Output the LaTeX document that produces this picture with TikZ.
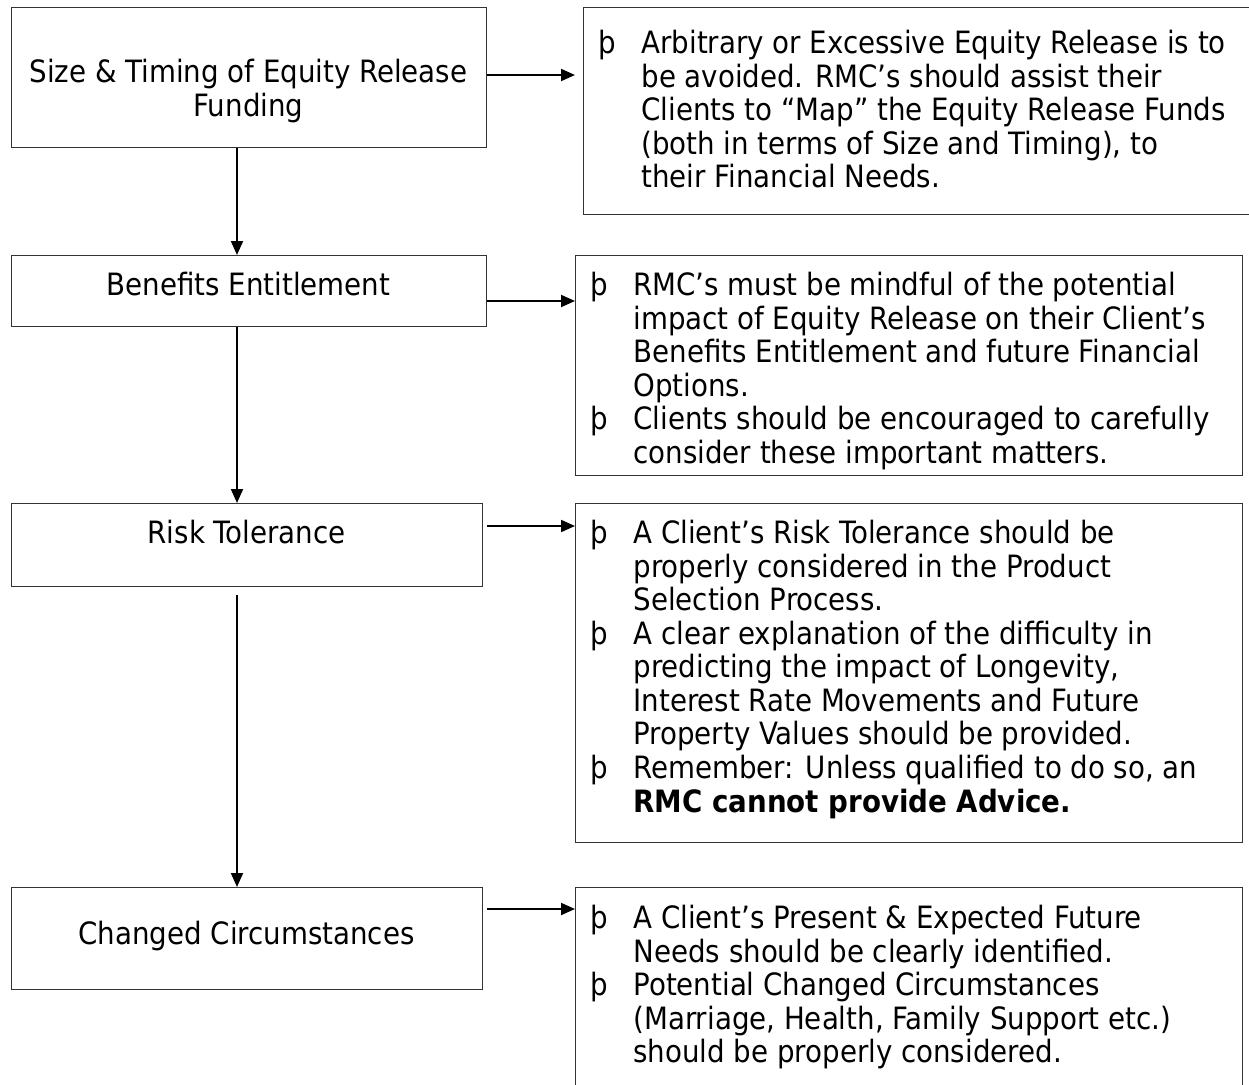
\documentclass[tikz,border=0pt]{standalone}
\usepackage{fontspec}
\setmainfont{DejaVu Sans Condensed}
\usetikzlibrary{arrows.meta}

\newcommand{\notelist}[1]{\begin{tabular}[t]{@{\hspace{3mm}}p{8.6mm}@{}l@{}}#1\end{tabular}}

\begin{document}
\begin{tikzpicture}[
    font=\fontsize{17.5}{19.1}\selectfont,
    stage/.style={draw=black!80, line width=0.6pt, anchor=north west, inner sep=0pt, minimum width=9.5cm},
    note/.style={draw=black!80, line width=0.6pt, anchor=north west, inner sep=0pt},
    conn/.style={line width=1.1pt, -{Triangle[length=2.8mm,width=2.4mm]}}]
  \useasboundingbox (0,0) rectangle (24.98,-21.68);
  \clip (0,0) rectangle (24.98,-21.68);
  \coordinate (spine) at (4.74,0);

  % stages on the left
  \node[stage, text height=1.5cm, text depth=1.3cm] (b1) at (0.21,-0.14)
    {\begin{tabular}[t]{@{}c@{}}Size \& Timing of Equity Release\\Funding\end{tabular}};
  \node[stage, text height=0.8cm, text depth=0.62cm] (b2) at (0.21,-5.1) {Benefits Entitlement};
  \node[stage, minimum width=9.42cm, text height=0.8cm, text depth=0.86cm] (b3) at (0.21,-10.06) {Risk Tolerance};
  \node[stage, minimum width=9.42cm, text height=1.14cm, text depth=0.9cm] (b4) at (0.21,-17.74) {Changed Circumstances};

  % notes on the right
  \node[note, text height=0.92cm, text depth=3.22cm] (n1) at (11.66,-0.14)
    {\makebox[13.4cm][l]{\notelist{%
      þ & Arbitrary or Excessive Equity Release is to\\
        & be avoided. RMC’s should assist their\\
        & Clients to “Map” the Equity Release Funds\\
        & (both in terms of Size and Timing), to\\
        & their Financial Needs.}}};
  \node[note, text height=0.8cm, text depth=3.6cm] (n2) at (11.5,-5.1)
    {\makebox[13.34cm][l]{\notelist{%
      þ & RMC’s must be mindful of the potential\\
        & impact of Equity Release on their Client’s\\
        & Benefits Entitlement and future Financial\\
        & Options.\\
      þ & Clients should be encouraged to carefully\\
        & consider these important matters.}}};
  \node[note, text height=0.8cm, text depth=5.98cm] (n3) at (11.5,-10.06)
    {\makebox[13.34cm][l]{\notelist{%
      þ & A Client’s Risk Tolerance should be\\
        & properly considered in the Product\\
        & Selection Process.\\
      þ & A clear explanation of the difficulty in\\
        & predicting the impact of Longevity,\\
        & Interest Rate Movements and Future\\
        & Property Values should be provided.\\
      þ & Remember: Unless qualified to do so, an\\
        & \textbf{RMC cannot provide Advice.}}}};
  \node[note, text height=0.82cm, text depth=3.4cm] (n4) at (11.5,-17.74)
    {\makebox[13.34cm][l]{\notelist{%
      þ & A Client’s Present \& Expected Future\\
        & Needs should be clearly identified.\\
      þ & Potential Changed Circumstances\\
        & (Marriage, Health, Family Support etc.)\\
        & should be properly considered.}}};

  % down the left side
  \draw[conn] (b1.south -| spine) -- (b2.north -| spine);
  \draw[conn] (b2.south -| spine) -- (b3.north -| spine);
  \draw[conn, shorten <=1.6mm] (b3.south -| spine) -- (b4.north -| spine);

  % across to the notes
  \draw[conn, shorten >=1.6mm] ([yshift=-1.36cm]b1.north east) -- ([yshift=-1.36cm]b1.north east -| n1.west);
  \draw[conn] ([yshift=-0.92cm]b2.north east) -- ([yshift=-0.92cm]b2.north east -| n2.west);
  \draw[conn, shorten <=0.8mm] ([yshift=-0.46cm]b3.north east) -- ([yshift=-0.46cm]b3.north east -| n3.west);
  \draw[conn, shorten <=0.8mm] ([yshift=-0.44cm]b4.north east) -- ([yshift=-0.44cm]b4.north east -| n4.west);
\end{tikzpicture}
\end{document}
